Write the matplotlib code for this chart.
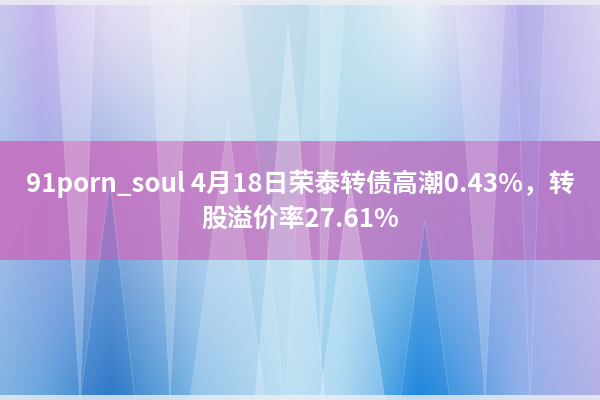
import numpy as np
import matplotlib
matplotlib.use("Agg")
import matplotlib.pyplot as plt
from matplotlib.patches import Rectangle, Polygon

plt.rcParams['font.family'] = ['Noto Sans CJK SC', 'DejaVu Sans']

# title text of the banner
title_lines = ["91porn_soul 4月18日荣泰转债高潮0.43%，转", "股溢价率27.61%"]

# background colour stops (x position, colour) for the top and bottom rows
stop_x = [0, 40, 110, 200, 290, 340, 420, 520, 600]
top_cols = ["#c7c9ee", "#c6b3ee", "#e4dcf3", "#e9eaf4", "#cfe3ee", "#c2e2ee", "#e8f0f6", "#bfb3ec", "#d8d4f2"]
bot_cols = ["#7fb3e2", "#6aa6df", "#2f7cc9", "#7fb8e6", "#a9d6ef", "#93cdee", "#1f88dd", "#8fb0e8", "#b4b0e6"]

# decorative triangles: (x0, x1, x2, y_base, y_tip, colour, alpha)
tri_down = [
    (55, 95, 80, 0, 400, "white", 0.22),
    (150, 190, 170, 0, 400, "white", 0.2),
    (240, 310, 285, 0, 400, "#7fc0e0", 0.15),
    (320, 345, 320, 0, 360, "white", 0.2),
    (455, 505, 485, 0, 400, "white", 0.18),
    (515, 545, 530, 0, 400, "#9aa8ea", 0.22),
]
tri_up = [
    (255, 325, 288, 400, 25, "white", 0.25),
    (320, 385, 350, 400, 180, "white", 0.25),
    (190, 265, 228, 400, 120, "white", 0.18),
    (400, 450, 425, 400, 220, "#1d7fd8", 0.22),
    (80, 135, 110, 400, 180, "#2a72c4", 0.22),
]

band_top, band_bottom = 141, 260


def hex2rgb(c):
    c = c.lstrip("#")
    return np.array([int(c[i:i + 2], 16) / 255 for i in (0, 2, 4)])


xs = np.arange(600)
top = np.stack([np.interp(xs, stop_x, [hex2rgb(c)[k] for c in top_cols]) for k in range(3)], axis=1)
bot = np.stack([np.interp(xs, stop_x, [hex2rgb(c)[k] for c in bot_cols]) for k in range(3)], axis=1)
t = np.linspace(0, 1, 400)[:, None, None]
t = t ** 1.2
img = top[None, :, :] * (1 - t) + bot[None, :, :] * t

fig = plt.figure(figsize=(6, 4), dpi=100)
ax = fig.add_axes([0, 0, 1, 1])
ax.imshow(img, extent=(0, 600, 400, 0), aspect="auto", interpolation="bilinear")

for x0, x1, x2, yb, yt, col, a in tri_down + tri_up:
    ax.add_patch(Polygon([(x0, yb), (x1, yb), (x2, yt)], closed=True,
                         facecolor=col, edgecolor="white", linewidth=0.6, alpha=a))

# thin whitish frame
ax.add_patch(Rectangle((0, 0), 600, 5, facecolor="#eeeef3", edgecolor="none", alpha=0.8))
ax.add_patch(Rectangle((0, 395), 600, 5, facecolor="#eeeef3", edgecolor="none", alpha=0.8))

# magenta band with a slight left-right tint change
band = np.stack([np.interp(xs, [0, 300, 600], [hex2rgb(c)[k] for c in ["#c66fc0", "#c37cc4", "#b273c6"]])
                 for k in range(3)], axis=1)
band_rgba = np.concatenate([band, np.full((600, 1), 0.88)], axis=1)[None, :, :]
ax.imshow(band_rgba, extent=(0, 600, band_bottom, band_top), aspect="auto")

ax.text(300, 184, title_lines[0], ha="center", va="center", color="white",
        fontsize=18.6, fontweight="bold")
ax.text(300, 219, title_lines[1], ha="center", va="center", color="white",
        fontsize=18.6, fontweight="bold")

ax.set_xlim(0, 600)
ax.set_ylim(400, 0)
ax.axis("off")
fig.savefig("out.png", dpi=100)
